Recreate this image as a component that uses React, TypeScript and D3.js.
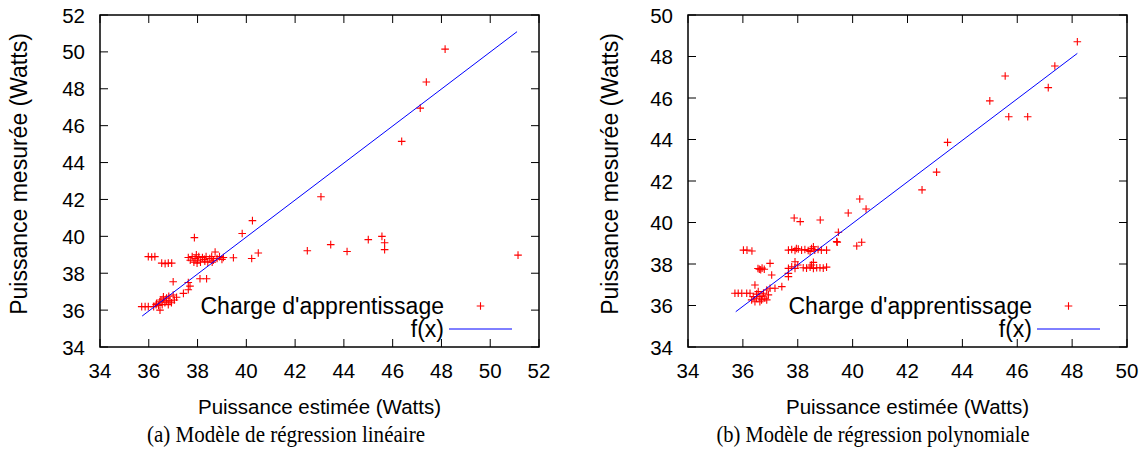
import React from "react";
import * as d3 from "d3";

// ---------- DATA ----------
const xTicksA = [34, 36, 38, 40, 42, 44, 46, 48, 50, 52];
const yTicksA = [34, 36, 38, 40, 42, 44, 46, 48, 50, 52];
const xTicksB = [34, 36, 38, 40, 42, 44, 46, 48, 50];
const yTicksB = [34, 36, 38, 40, 42, 44, 46, 48, 50];

// (estimated, measured) for linear model
const pointsA: [number, number][] = [
  [48.15, 50.15], [47.38, 48.37], [47.13, 46.95], [46.37, 45.15], [43.06, 42.15],
  [40.25, 40.85], [39.83, 40.15], [37.87, 39.93], [45.0, 39.82], [45.56, 40.0],
  [45.67, 39.65], [43.46, 39.55], [42.5, 39.22], [44.13, 39.18], [45.67, 39.28],
  [51.14, 38.98],
  [35.98, 38.9], [36.12, 38.88], [36.25, 38.9],
  [36.53, 38.55], [36.67, 38.52], [36.8, 38.55], [36.94, 38.55],
  [37.62, 38.85], [37.7, 38.7], [37.78, 38.9], [37.85, 38.6], [37.9, 38.8],
  [37.95, 39.0], [38.0, 38.7], [38.05, 38.9], [38.12, 38.6], [38.2, 38.85],
  [38.28, 38.75], [38.35, 38.9], [38.42, 38.6], [38.5, 38.8], [38.58, 38.9],
  [38.65, 38.7], [38.72, 39.15], [38.8, 38.8], [38.9, 38.9], [39.0, 38.75],
  [39.06, 38.85], [38.3, 38.65], [37.98, 38.55], [38.6, 38.6],
  [39.47, 38.84], [40.22, 38.8], [40.49, 39.1],
  [37.0, 37.54], [37.62, 37.5], [37.69, 37.3], [37.62, 37.1],
  [38.1, 37.7], [38.37, 37.7], [37.42, 36.91],
  [35.71, 36.19], [35.85, 36.19], [35.98, 36.19], [36.2, 36.19],
  [36.46, 36.0], [36.32, 36.37], [36.5, 36.55], [36.6, 36.72], [36.73, 36.65],
  [36.87, 36.5], [36.66, 36.4], [36.8, 36.3], [37.0, 36.82], [37.14, 36.7],
  [36.93, 36.4], [36.4, 36.25], [36.3, 36.3], [36.55, 36.3], [36.72, 36.5],
  [36.82, 36.75], [37.05, 36.55], [36.6, 36.6], [36.45, 36.45],
];

// (estimated, measured) for polynomial model
const pointsB: [number, number][] = [
  [48.19, 48.71], [47.37, 47.54], [45.56, 47.06], [47.13, 46.5], [45.0, 45.86],
  [45.69, 45.1], [46.38, 45.1], [43.46, 43.86], [43.06, 42.43], [42.53, 41.57],
  [40.26, 41.13], [40.49, 40.65], [39.84, 40.46], [37.87, 40.22], [38.09, 40.04],
  [38.82, 40.12], [39.48, 39.53], [39.44, 39.05], [40.33, 39.05], [40.15, 38.87],
  [36.02, 38.67], [36.15, 38.67], [36.33, 38.63],
  [37.66, 38.67], [37.78, 38.7], [37.9, 38.65], [38.02, 38.72], [38.14, 38.67],
  [38.26, 38.7], [38.38, 38.65], [38.5, 38.75], [38.57, 38.83], [38.62, 38.67],
  [38.74, 38.7], [38.86, 38.67], [39.05, 38.67], [38.45, 38.6], [37.95, 38.75],
  [39.42, 39.08],
  [36.99, 38.03], [36.6, 37.75], [36.7, 37.8], [36.65, 37.72], [36.55, 37.78],
  [36.78, 37.75], [37.05, 37.47],
  [37.9, 38.11], [38.57, 38.08], [38.0, 37.95],
  [38.2, 37.82], [38.32, 37.8], [38.45, 37.85], [38.57, 37.79], [38.69, 37.82],
  [38.81, 37.82], [38.93, 37.8], [39.05, 37.85], [38.5, 37.95],
  [37.66, 37.79], [37.66, 37.55], [37.66, 37.39], [37.78, 37.87], [37.9, 37.79],
  [37.42, 36.91], [37.17, 36.83], [36.44, 36.99],
  [35.71, 36.59], [35.83, 36.59], [35.96, 36.59], [36.14, 36.59], [36.26, 36.59],
  [36.38, 36.43], [36.5, 36.35], [36.62, 36.43], [36.75, 36.59], [36.87, 36.75],
  [36.99, 36.83], [36.56, 36.67], [36.68, 36.27], [36.8, 36.35], [36.93, 36.51],
  [36.44, 36.18], [36.32, 36.27], [36.62, 36.18], [36.87, 36.27], [36.5, 36.55],
  [36.7, 36.45],
];

// fitted f(x) = slope * x + intercept over [xFrom, xTo]
const fitA = { slope: 1.003, intercept: -0.157, xFrom: 35.73, xTo: 51.1 };
const fitB = { slope: 1.0, intercept: -0.04, xFrom: 35.74, xTo: 48.19 };

const xLabel = "Puissance estimée (Watts)";
const yLabel = "Puissance mesurée (Watts)";
const legendPoints = "Charge d'apprentissage";
const legendLine = "f(x)";
const captionA = "(a) Modèle de régression linéaire";
const captionB = "(b) Modèle de régression polynomiale";

// ---------- DRAWING ----------
const SANS = "'Liberation Sans', Arial, Helvetica, sans-serif";
const SERIF = "'Liberation Serif', 'Times New Roman', serif";

type PanelProps = {
  left: number;
  right: number;
  top: number;
  bottom: number;
  xDomain: [number, number];
  yDomain: [number, number];
  xTicks: number[];
  yTicks: number[];
  points: [number, number][];
  fit: { slope: number; intercept: number; xFrom: number; xTo: number };
  yLabelX: number;
  caption: string;
  captionX: number;
  captionWidth: number;
};

function Panel(p: PanelProps) {
  const x = d3.scaleLinear().domain(p.xDomain).range([p.left, p.right]);
  const y = d3.scaleLinear().domain(p.yDomain).range([p.bottom, p.top]);
  const tick = 8;
  const m = 3.8;
  const line = d3
    .line<number>()
    .x((v) => x(v))
    .y((v) => y(p.fit.slope * v + p.fit.intercept));
  const plus = (cx: number, cy: number, key: string) => (
    <path
      key={key}
      d={`M${cx - m},${cy}H${cx + m}M${cx},${cy - m}V${cy + m}`}
      stroke="#ff0000"
      strokeWidth={1.1}
      fill="none"
    />
  );
  const legTextX = p.right - 95;
  const legY1 = p.bottom - 41;
  const legY2 = p.bottom - 18;
  const midY = (p.top + p.bottom) / 2;
  return (
    <g>
      {/* ticks */}
      {p.xTicks.map((t) => (
        <g key={"xt" + t}>
          <line x1={x(t)} x2={x(t)} y1={p.bottom} y2={p.bottom - tick} stroke="#000" strokeWidth={1} />
          <line x1={x(t)} x2={x(t)} y1={p.top} y2={p.top + tick} stroke="#000" strokeWidth={1} />
          <text x={x(t)} y={p.bottom + 31} textAnchor="middle" fontFamily={SANS} fontSize={20.5} fill="#000">
            {t}
          </text>
        </g>
      ))}
      {p.yTicks.map((t) => (
        <g key={"yt" + t}>
          <line x1={p.left} x2={p.left + tick} y1={y(t)} y2={y(t)} stroke="#000" strokeWidth={1} />
          <line x1={p.right} x2={p.right - tick} y1={y(t)} y2={y(t)} stroke="#000" strokeWidth={1} />
          <text x={p.left - 15} y={y(t) + 7.5} textAnchor="end" fontFamily={SANS} fontSize={20.5} fill="#000">
            {t}
          </text>
        </g>
      ))}
      {/* data */}
      {p.points.map((d, i) => plus(x(d[0]), y(d[1]), "p" + i))}
      <path d={line([p.fit.xFrom, p.fit.xTo]) || ""} stroke="#0000ff" strokeWidth={1} fill="none" />
      {/* legend */}
      <text x={legTextX} y={legY1 + 7.5} textAnchor="end" fontFamily={SANS} fontSize={23} fill="#000">
        {legendPoints}
      </text>
      {plus((p.right - 90 + p.right - 27) / 2, legY1, "leg")}
      <text x={legTextX} y={legY2 + 8} textAnchor="end" fontFamily={SANS} fontSize={23} fill="#000">
        {legendLine}
      </text>
      <line x1={p.right - 90} x2={p.right - 27} y1={legY2} y2={legY2} stroke="#0000ff" strokeWidth={1} />
      {/* frame */}
      <rect
        x={p.left}
        y={p.top}
        width={p.right - p.left}
        height={p.bottom - p.top}
        fill="none"
        stroke="#000"
        strokeWidth={1.5}
      />
      {/* axis labels */}
      <text
        x={(p.left + p.right) / 2}
        y={414}
        textAnchor="middle"
        fontFamily={SANS}
        fontSize={20.5}
        fill="#000"
      >
        {xLabel}
      </text>
      <text
        transform={`translate(${p.yLabelX},${midY - 7}) rotate(-90)`}
        textAnchor="middle"
        fontFamily={SANS}
        fontSize={23}
        fill="#000"
      >
        {yLabel}
      </text>
      <text
        x={p.captionX}
        y={442}
        textAnchor="middle"
        fontFamily={SERIF}
        fontSize={23.5}
        textLength={p.captionWidth}
        lengthAdjust="spacingAndGlyphs"
        fill="#000"
      >
        {p.caption}
      </text>
    </g>
  );
}

export default function App() {
  return (
    <svg
      width={1147}
      height={459}
      viewBox="0 0 1147 459"
      style={{ position: "fixed", left: 0, top: 0, background: "#fff", display: "block" }}
    >
      <rect x={0} y={0} width={1147} height={459} fill="#fff" />
      <Panel
        left={100}
        right={539}
        top={15}
        bottom={347}
        xDomain={[34, 52]}
        yDomain={[34, 52]}
        xTicks={xTicksA}
        yTicks={yTicksA}
        points={pointsA}
        fit={fitA}
        yLabelX={27}
        caption={captionA}
        captionX={286}
        captionWidth={278}
      />
      <Panel
        left={688}
        right={1127}
        top={15}
        bottom={347}
        xDomain={[34, 50]}
        yDomain={[34, 50]}
        xTicks={xTicksB}
        yTicks={yTicksB}
        points={pointsB}
        fit={fitB}
        yLabelX={618}
        caption={captionB}
        captionX={873}
        captionWidth={313}
      />
    </svg>
  );
}
